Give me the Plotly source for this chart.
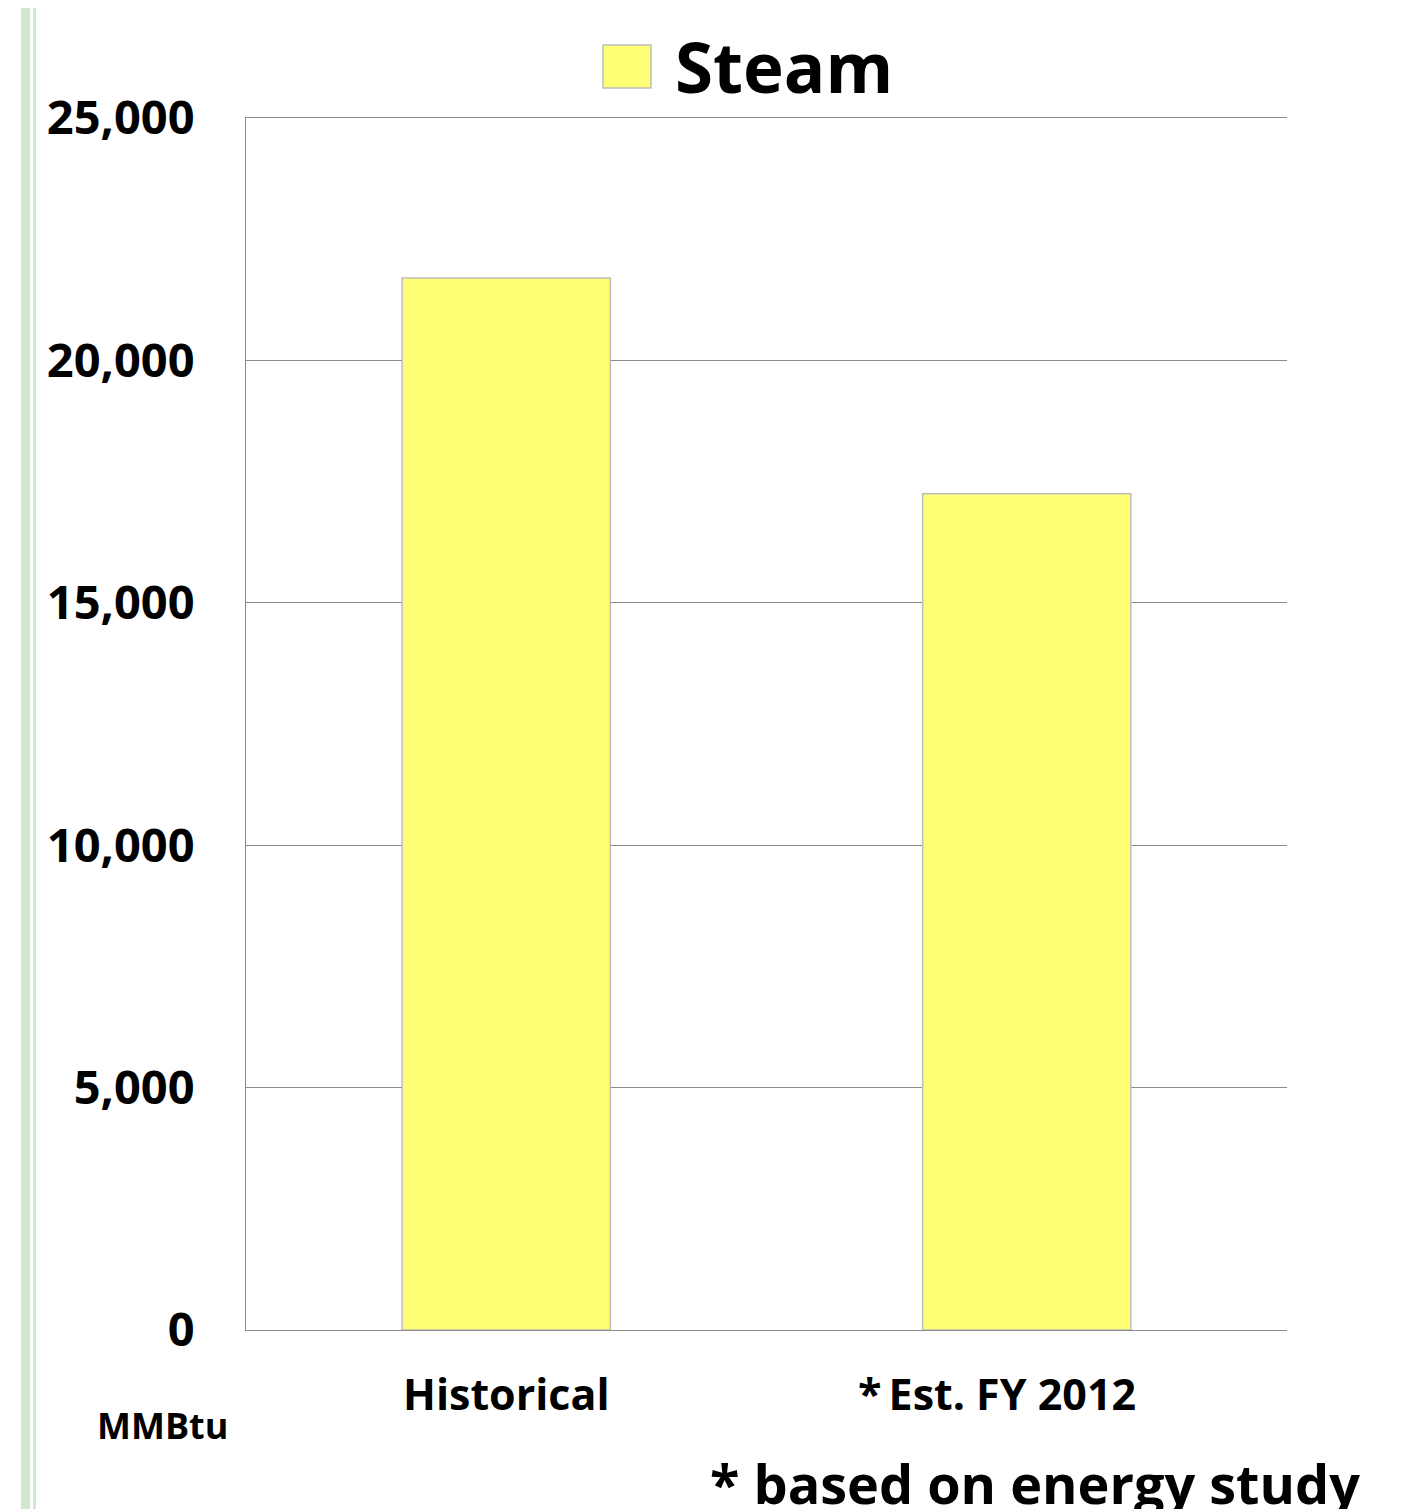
import plotly.graph_objects as go

categories = ["Historical", "* Est. FY 2012"]
category_labels = ["Historical", "*\u2009Est. FY 2012"]
label_shift = [0, -30]
steam_values = [21700, 17250]
y_ticks = [0, 5000, 10000, 15000, 20000, 25000]
y_tick_labels = ["0", "5,000", "10,000", "15,000", "20,000", "25,000"]

OFF = 8  # page body margin
W, H = 1409 - OFF, 1509 - OFF
# plot area in page pixels: x 246..1287, y 118..1330
L, T = 246 - OFF, 118 - OFF
R = W - (1287 - OFF)
B = H - (1330 - OFF)
pw, ph = W - L - R, H - T - B

def px(x):
    return (x - OFF - L) / pw

def py(y):
    return (H - B - (y - OFF)) / ph

FONT = "Open Sans"

fig = go.Figure()
fig.add_trace(go.Bar(
    x=categories, y=steam_values, name="Steam", width=0.4,
    marker=dict(color="#ffff75", line=dict(color="#bdbdbd", width=1.5)),
    showlegend=False,
))

shapes = [
    dict(type="rect", xref="paper", yref="paper", x0=px(21), x1=px(30), y0=py(1520), y1=py(0),
         fillcolor="#cfe8cf", line=dict(width=0), layer="below"),
    dict(type="rect", xref="paper", yref="paper", x0=px(33), x1=px(36), y0=py(1520), y1=py(0),
         fillcolor="#cfe8cf", line=dict(width=0), layer="below"),
    dict(type="rect", xref="paper", yref="paper", x0=px(603), x1=px(651), y0=py(88), y1=py(45),
         fillcolor="#ffff75", line=dict(color="#bdbdbd", width=1.5)),
]

annotations = [
    dict(text="<b>Steam</b>", xref="paper", yref="paper", x=px(673), y=py(66),
         xanchor="left", yanchor="middle", showarrow=False,
         font=dict(family=FONT, size=69, color="black")),
    dict(text="<b>MMBtu</b>", xref="paper", yref="paper", x=px(162), y=py(1425),
         xanchor="center", yanchor="middle", showarrow=False,
         font=dict(family=FONT, size=36, color="black")),
    dict(text="<b>* based on energy study</b>", xref="paper", yref="paper", x=px(1035), y=py(1483),
         xanchor="center", yanchor="middle", showarrow=False,
         font=dict(family=FONT, size=54, color="black")),
]
for cat, lab, sh in zip(categories, category_labels, label_shift):
    annotations.append(dict(
        text="<b>%s</b>" % lab, xref="x", yref="paper", x=cat, y=py(1393),
        xanchor="center", yanchor="middle", xshift=sh, showarrow=False,
        font=dict(family=FONT, size=43, color="black")))

fig.update_layout(
    width=W, height=H,
    margin=dict(l=L, r=R, t=T, b=B, pad=0),
    paper_bgcolor="white", plot_bgcolor="white",
    shapes=shapes, annotations=annotations,
    xaxis=dict(
        showgrid=False, zeroline=False, showticklabels=False,
        showline=True, mirror=True, linecolor="#8c8c8c", linewidth=1,
        ticks="",
    ),
    yaxis=dict(
        range=[0, 25000], tickvals=y_ticks, ticktext=["<b>%s</b>" % t for t in y_tick_labels],
        showgrid=True, gridcolor="#8c8c8c", gridwidth=1,
        zeroline=False,
        showline=True, linecolor="#8c8c8c", linewidth=1,
        tickfont=dict(family=FONT, size=47, color="black"),
        ticks="outside", ticklen=41, tickcolor="rgba(0,0,0,0)",
    ),
)

fig.write_html("out.html")
